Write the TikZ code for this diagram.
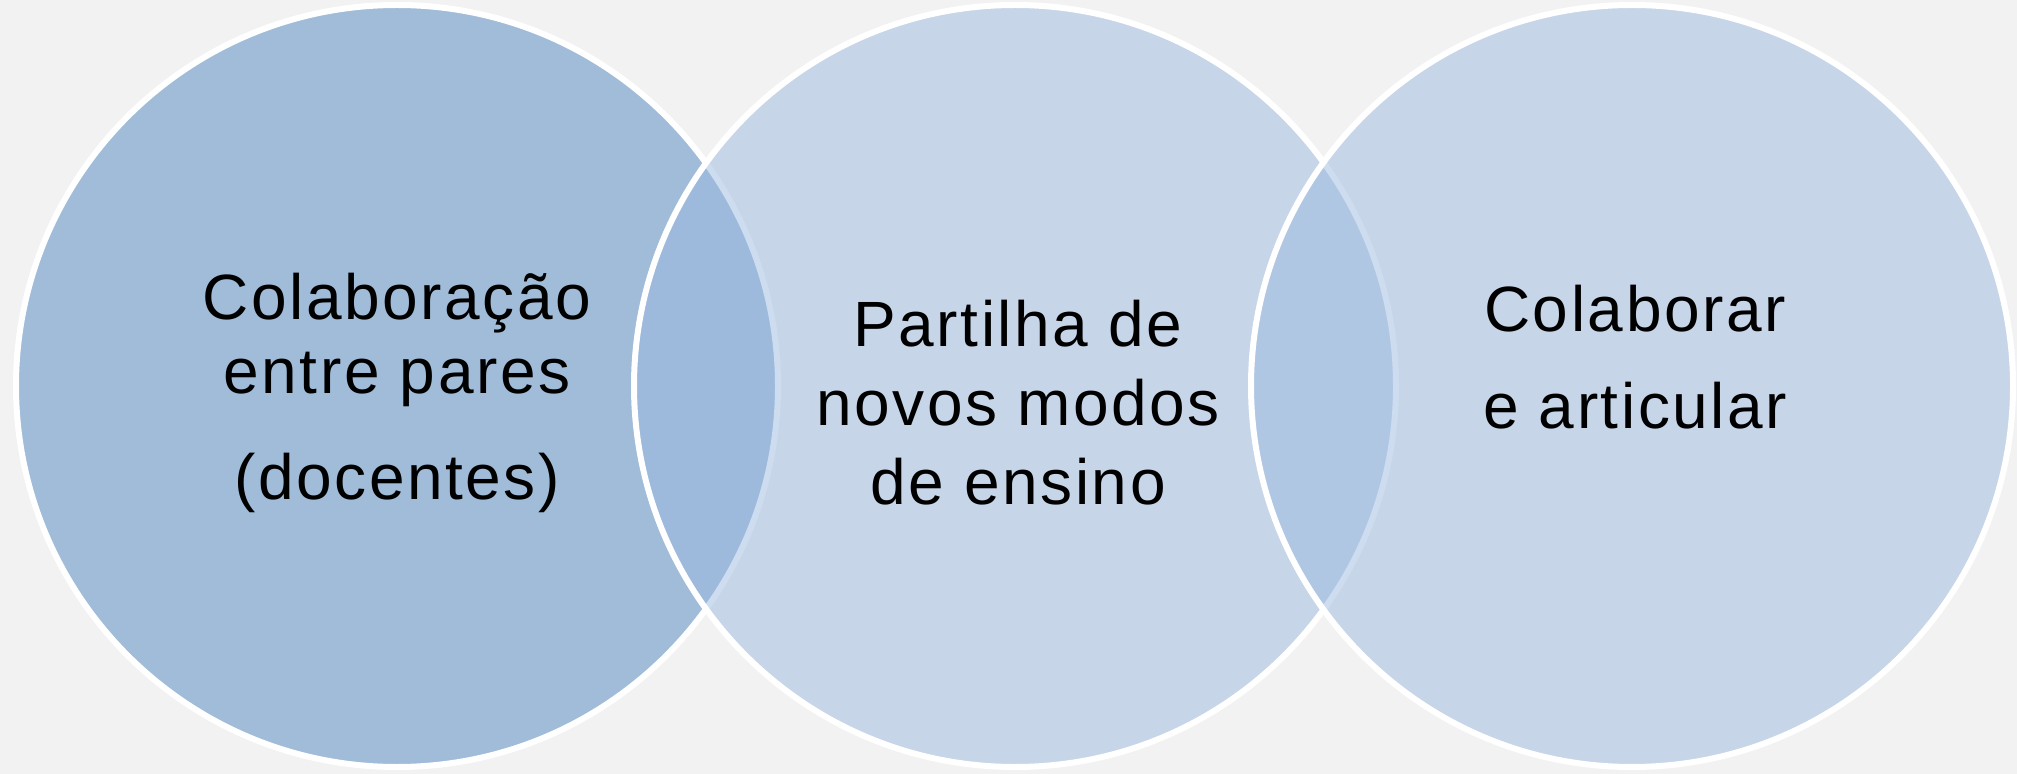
\documentclass[tikz,border=0pt]{standalone}
\usepackage{fontspec}
\setmainfont{Liberation Sans}[LetterSpace=4]
\definecolor{bgc}{RGB}{242,242,242}
\definecolor{leftc}{RGB}{80,136,192}
\definecolor{midc}{RGB}{156,186,224}
\begin{document}
\begin{tikzpicture}[x=0.5pt,y=-0.5pt,
  venn/.style={circle, draw=white, line width=3pt, fill opacity=0.5, draw opacity=1,
    minimum size=381pt, inner sep=0pt, outer sep=0pt},
  lbl/.style={anchor=base, inner sep=0pt, text=black, font=\fontsize{32pt}{36pt}\selectfont}]
\fill[bgc] (0,0) rectangle (2017,774);
\useasboundingbox (0,0) rectangle (2017,774);
\node[venn, fill=leftc] (c1) at (397,386) {};
\node[venn, fill=midc] (c2) at (1015,386) {};
\node[venn, fill=midc] (c3) at (1632,386) {};
\node[lbl] (t11) at (397,320) {Colaboração};
\node[lbl] (t12) at (397,394) {entre pares};
\node[lbl] (t13) at (397,500) {(docentes)};
\node[lbl] (t21) at (1018,347) {Partilha de};
\node[lbl] (t22) at (1018,426) {novos modos};
\node[lbl] (t23) at (1018,504) {de ensino};
\node[lbl] (t31) at (1635,332) {Colaborar};
\node[lbl] (t32) at (1635,429) {e articular};
\end{tikzpicture}
\end{document}
